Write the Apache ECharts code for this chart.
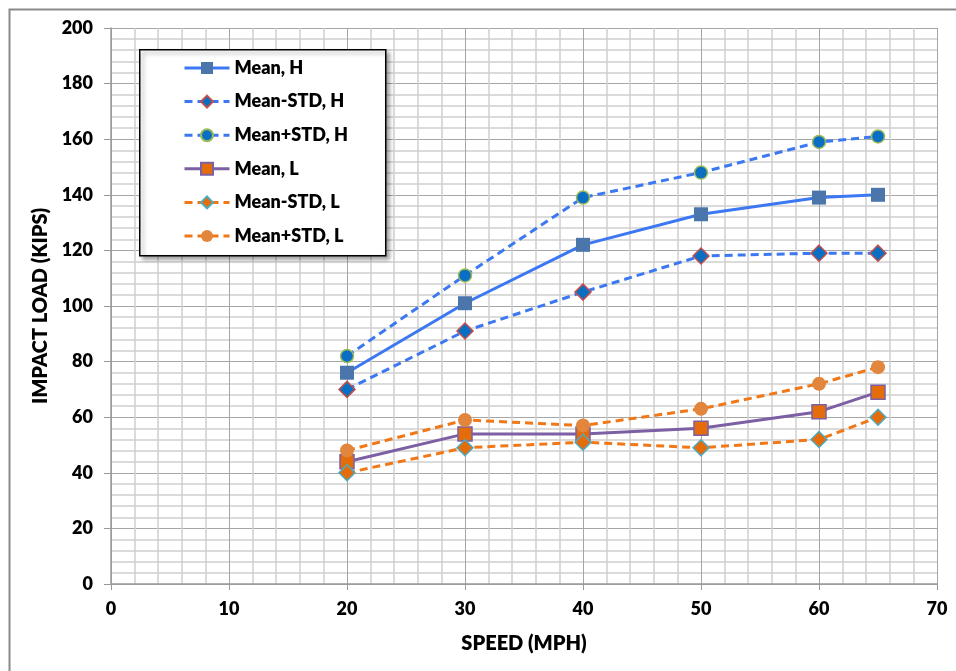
<!DOCTYPE html>
<html>
<head>
<meta charset="utf-8">
<script src="https://cdn.jsdelivr.net/npm/echarts@6/dist/echarts.min.js"></script>
<style>html,body{margin:0;padding:0;background:#fff}#c{width:956px;height:671px}</style>
</head>
<body>
<div id="c"></div>
<script>
const speeds = [20, 30, 40, 50, 60, 65];
const meanH = [76, 101, 122, 133, 139, 140];
const meanMinusH = [70, 91, 105, 118, 119, 119];
const meanPlusH = [82, 111, 139, 148, 159, 161];
const meanL = [44, 54, 54, 56, 62, 69];
const meanMinusL = [40, 49, 51, 49, 52, 60];
const meanPlusL = [48, 59, 57, 63, 72, 78];
const seriesNames = ['Mean, H', 'Mean-STD, H', 'Mean+STD, H', 'Mean, L', 'Mean-STD, L', 'Mean+STD, L'];

const pts = arr => speeds.map((s, i) => [s, arr[i]]);
const FONT = 'Lato, "Liberation Sans", sans-serif';
const W = 800;
const chart = echarts.init(document.getElementById('c'));

function mk(name, data, lineColor, dashed, symbol, size, fill, border) {
  return {
    name, type: 'line', data: pts(data), symbol, symbolSize: size,
    lineStyle: { color: lineColor, width: 3, type: dashed ? [8, 5] : 'solid' },
    itemStyle: { color: fill, borderColor: border, borderWidth: border ? 1.5 : 0 },
    emphasis: { disabled: true }, animation: false, z: 3
  };
}

chart.setOption({
  animation: false,
  graphic: [
    { type: 'rect', left: 7, top: 7, shape: { width: 1000, height: 1000 }, style: { fill: 'none', stroke: '#8a8a8a', lineWidth: 2 }, z: 0 },
    { type: 'rect', left: 139, top: 49, shape: { width: 246, height: 206 },
      style: { fill: '#fff', stroke: '#000', lineWidth: 1.5, shadowBlur: 4, shadowOffsetX: 3, shadowOffsetY: 3, shadowColor: 'rgba(0,0,0,0.35)' }, z: 10 }
  ],
  grid: { left: 111, right: 19, top: 28, bottom: 87, containLabel: false },
  legend: {
    data: seriesNames, orient: 'vertical', left: 173, top: 54, padding: [5, 10, 5, 10],
    itemWidth: 45, itemHeight: 15, itemGap: 15.6, z: 11,
    lineStyle: { width: 3 },
    textStyle: { fontFamily: FONT, fontWeight: W, fontSize: 18, lineHeight: 14, color: '#000' }
  },
  xAxis: {
    type: 'value', min: 0, max: 70, interval: 10,
    name: 'SPEED (MPH)', nameLocation: 'middle', nameGap: 50,
    nameTextStyle: { fontFamily: FONT, fontWeight: W, fontSize: 20, color: '#000' },
    axisLine: { show: true, onZero: false, lineStyle: { color: '#999', width: 1.5 } },
    axisTick: { show: true, length: 6, lineStyle: { color: '#999' } },
    axisLabel: { fontFamily: FONT, fontWeight: W, fontSize: 18, color: '#000', margin: 16 },
    splitLine: { show: true, lineStyle: { color: '#a6a6a6', width: 1 } },
    minorTick: { show: false, splitNumber: 5 },
    minorSplitLine: { show: true, lineStyle: { color: '#d0d0d0', width: 1.5 } }
  },
  yAxis: {
    type: 'value', min: 0, max: 200, interval: 20,
    name: 'IMPACT LOAD (KIPS)', nameLocation: 'middle', nameGap: 54,
    nameTextStyle: { fontFamily: FONT, fontWeight: W, fontSize: 20, color: '#000' },
    axisLine: { show: true, lineStyle: { color: '#999', width: 1.5 } },
    axisTick: { show: true, length: 7, lineStyle: { color: '#999' } },
    axisLabel: { fontFamily: FONT, fontWeight: W, fontSize: 18, color: '#000', margin: 18 },
    splitLine: { show: true, lineStyle: { color: '#a6a6a6', width: 1 } },
    minorTick: { show: false, splitNumber: 5 },
    minorSplitLine: { show: true, lineStyle: { color: '#d0d0d0', width: 1.5 } }
  },
  series: [
    mk(seriesNames[0], meanH, '#3b78f2', false, 'rect', 14, '#4a76ab', null),
    mk(seriesNames[1], meanMinusH, '#3b78f2', true, 'diamond', 16, '#0a6fc2', '#c0504d'),
    mk(seriesNames[2], meanPlusH, '#3b78f2', true, 'circle', 13, '#0a6fc2', '#9bbb59'),
    mk(seriesNames[3], meanL, '#7d5fa3', false, 'rect', 14, '#e46c0a', '#7d5fa3'),
    mk(seriesNames[4], meanMinusL, '#f07818', true, 'diamond', 16, '#e46c0a', '#4bacc6'),
    mk(seriesNames[5], meanPlusL, '#f07818', true, 'circle', 14, '#e2863d', null)
  ]
});
</script>
</body>
</html>
